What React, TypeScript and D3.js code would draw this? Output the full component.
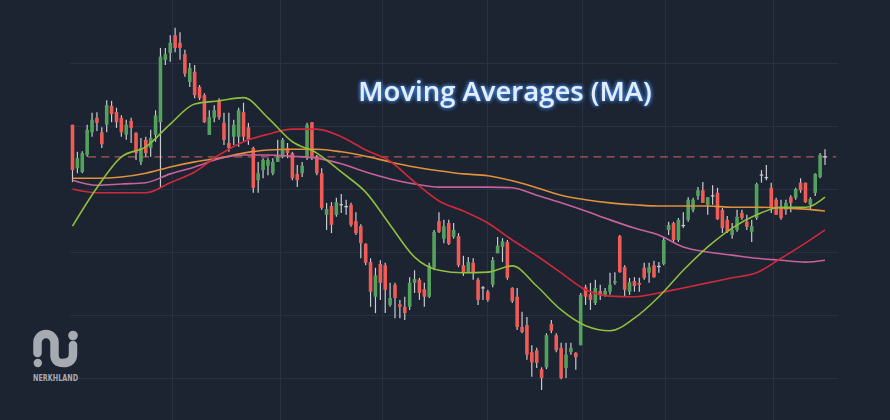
import React from "react";
import * as d3 from "d3";

// ---------- DATA ----------
const openP = [100.2,93.3,92.7,95.4,99.0,101.3,99.0,100.2,103.2,102.2,
101.3,98.6,100.8,98.9,94.3,97.8,96.5,98.6,100.6,110.5,
111.6,114.4,113.2,111.4,107.0,108.6,106.2,104.9,98.6,101.3,
104.0,100.5,97.3,98.3,98.3,102.2,99.8,96.5,91.4,93.0,
93.7,92.5,94.3,95.1,96.5,95.7,92.4,92.5,95.1,100.6,
95.1,92.5,85.9,87.3,85.9,87.6,87.1,87.5,84.9,84.1,
81.3,78.4,72.9,78.1,77.9,71.6,74.8,71.7,71.3,71.3,
75.1,75.6,74.1,72.9,77.5,84.9,82.1,84.6,82.4,82.5,
77.9,76.8,78.3,75.6,74.4,73.7,74.8,79.8,80.8,81.6,
74.3,72.9,68.1,68.4,64.1,64.4,61.4,61.7,68.6,66.8,
64.8,61.6,64.1,64.0,65.2,74.4,73.3,71.9,73.8,73.2,
73.7,75.1,82.5,77.6,73.7,75.4,75.1,77.5,76.7,77.9,
77.6,78.1,83.5,84.6,81.9,84.3,85.1,86.7,88.9,89.8,
87.5,89.0,89.4,86.7,85.1,82.7,83.5,86.2,84.8,83.2,
85.4,92.3,91.9,90.2,88.3,87.0,86.7,88.7,88.6,91.0,
91.0,87.5,89.4,91.9,95.2];

const closeP = [93.0,94.9,95.7,99.4,101.0,100.5,97.1,103.3,101.9,100.6,
99.0,100.2,99.7,95.7,96.5,95.7,98.1,101.7,111.0,111.4,
113.2,112.4,112.4,108.3,109.2,104.9,104.4,100.6,101.4,102.5,
101.4,97.8,96.5,100.2,102.5,98.3,97.8,90.2,92.5,94.6,
94.6,94.3,95.1,97.8,95.7,91.7,91.4,93.7,100.2,94.9,
92.5,87.0,86.8,84.3,87.9,87.5,87.3,84.3,83.0,81.4,
78.3,73.7,76.3,75.1,74.0,72.7,72.7,71.3,70.3,75.1,
75.7,73.5,72.9,77.9,83.2,83.2,84.1,81.3,83.5,77.9,
76.7,78.4,76.8,72.4,74.3,72.4,78.7,81.0,81.7,75.9,
72.2,68.1,67.3,63.7,62.5,62.4,60.0,66.8,67.5,64.4,
60.0,63.7,64.8,63.3,73.2,72.9,72.4,74.3,73.2,73.8,
74.8,75.4,76.8,74.0,75.2,74.6,74.8,75.9,77.6,76.0,
77.8,81.9,84.3,81.9,85.1,84.1,88.3,88.3,89.8,87.8,
88.7,88.9,85.2,83.8,83.2,83.5,85.6,85.4,84.0,84.1,
90.8,92.2,91.8,87.0,85.9,85.4,87.8,87.8,90.0,89.8,
87.9,88.4,92.4,95.4,95.1];

const highP = [100.2,95.9,96.0,100.2,102.1,102.2,99.8,104.1,104.0,102.9,
101.7,101.0,101.3,99.0,98.1,98.3,99.4,102.5,112.4,112.4,
114.4,115.6,114.9,112.1,110.0,109.7,106.5,105.2,102.5,103.3,
104.4,102.1,102.1,101.0,102.9,103.7,100.5,96.7,94.3,94.9,
94.9,94.9,97.8,98.1,97.3,95.9,93.8,94.3,100.5,100.6,
95.4,93.3,87.8,87.9,88.6,89.2,88.3,87.8,86.3,84.4,
81.4,79.0,77.5,78.7,78.3,75.1,75.1,72.4,72.9,76.0,
77.1,75.9,75.1,78.3,83.5,86.3,85.1,85.1,84.6,83.0,
79.4,79.2,79.0,75.9,74.6,74.0,79.2,82.4,82.2,81.9,
74.4,74.3,70.5,69.7,65.2,64.8,61.7,67.1,69.2,67.1,
65.6,65.6,65.6,64.1,73.5,74.8,75.1,75.6,74.8,74.3,
76.7,76.8,82.7,77.9,75.9,76.0,75.9,78.3,78.3,78.6,
78.4,82.4,84.8,84.8,85.4,86.3,88.7,88.6,90.3,91.1,
88.7,90.6,90.2,87.0,85.7,84.6,86.7,86.7,85.9,85.1,
91.0,93.0,93.8,91.0,88.6,88.3,88.3,89.0,90.2,91.7,
91.0,88.7,92.5,95.7,96.3];

const lowP = [91.1,92.5,92.5,95.1,98.3,99.2,96.5,99.0,100.6,99.7,
98.3,97.8,97.3,94.6,93.8,95.1,95.1,97.5,90.3,109.7,
110.2,111.7,110.5,107.8,106.2,104.4,104.1,100.5,98.6,100.6,
101.0,97.0,95.9,97.0,96.7,97.5,97.0,89.4,89.4,91.7,
92.2,92.2,94.3,94.9,94.9,91.4,90.3,91.9,94.6,94.6,
92.2,86.7,83.5,83.0,85.6,86.2,85.9,84.0,82.7,79.0,
77.9,71.3,70.3,72.4,70.3,71.3,69.5,69.5,69.2,70.8,
73.5,72.4,71.3,72.7,77.1,83.0,81.4,81.1,82.1,77.6,
76.2,76.7,75.6,71.6,72.4,72.1,74.4,79.8,78.4,75.6,
71.9,67.6,67.1,62.9,60.2,61.6,58.1,61.4,67.1,64.1,
59.8,60.0,63.7,61.3,65.2,71.6,70.8,71.6,72.4,72.9,
73.2,74.8,76.7,72.9,73.2,73.7,73.7,75.6,75.1,75.9,
76.7,77.9,82.7,81.6,81.6,83.8,84.8,86.3,88.3,87.8,
85.9,87.5,85.1,83.0,83.0,82.1,83.2,85.1,83.5,81.6,
85.1,91.0,91.4,86.2,85.9,85.1,85.9,86.3,88.3,89.4,
87.8,86.7,88.9,91.7,93.8];

// moving averages, sampled at these candle indices
const maIdx = [0,5,10,15,20,25,30,35,40,45,50,55,60,65,70,75,80,85,90,95,100,105,110,115,120,125,130,135,140,145,150,154];
const maShort = [84.1,90.2,95.1,96.7,100.3,103.5,104.0,104.5,101.3,97.5,95.7,92.7,89.5,84.3,79.2,77.1,76.7,76.8,77.8,74.6,70.8,68.3,67.5,69.5,72.9,77.1,80.8,83.8,85.9,87.1,87.1,88.7];
const maMid = [90.0,89.4,89.4,89.4,91.0,92.7,95.4,97.5,98.7,99.5,99.5,98.3,96.2,94.4,91.1,88.1,86.5,84.6,81.9,79.4,76.7,74.0,73.0,72.9,73.5,74.3,75.1,75.9,76.7,79.0,81.4,83.5];
const maLong = [91.4,90.6,90.8,91.0,92.4,93.5,94.8,95.4,95.4,95.2,94.9,94.0,92.7,91.6,90.8,90.3,90.3,90.3,90.2,89.0,87.8,86.5,85.1,83.8,82.7,80.8,80.0,79.5,79.0,78.7,78.4,78.7];
const maVeryLong = [91.7,91.7,91.9,92.5,93.5,94.3,94.9,95.7,96.2,96.3,96.3,95.9,95.2,94.3,93.5,92.9,92.4,92.1,91.3,90.2,89.0,88.3,87.8,87.5,87.3,87.3,87.3,87.1,87.1,87.0,86.8,86.5];

const priceGrid = [60, 70, 80, 90, 100, 110];
const timeGrid = [20.4, 42.5, 63.3, 84.9, 104.2, 121.2, 143.3];
const resistance = 95.1;
const titleText = "Moving Averages (MA)";
const brandText = "NERKHLAND";

// ---------- CHART ----------
const W = 890;
const H = 420;
const BG = "#1c2331";
const UP = "#53a15d";
const DOWN = "#ef5b55";
const WICK = "#c9ccd1";

export default function App() {
  const n = openP.length;
  const x = d3.scaleLinear().domain([0, n - 1]).range([72.5, 825]);
  const y = d3.scaleLinear().domain([50, 120]).range([441, 0]);
  const bw = 3.6;

  const mkLine = (vals: number[]) =>
    d3
      .line<number>()
      .x((_, i) => x(maIdx[i]))
      .y((v) => y(v))
      .curve(d3.curveMonotoneX)(vals) || "";

  const mas = [
    { vals: maVeryLong, color: "#e0913a" },
    { vals: maLong, color: "#c7629c" },
    { vals: maMid, color: "#cf2a3a" },
    { vals: maShort, color: "#8fbf3c" },
  ];

  return (
    <svg
      width={W}
      height={H}
      style={{ position: "absolute", left: 0, top: 0, display: "block" }}
    >
      <defs>
        <filter id="glow" x="-20%" y="-60%" width="140%" height="220%">
          <feGaussianBlur in="SourceAlpha" stdDeviation="2" result="b" />
          <feFlood floodColor="#3f8cf0" floodOpacity="0.9" />
          <feComposite in2="b" operator="in" result="g" />
          <feMerge>
            <feMergeNode in="g" />
            <feMergeNode in="g" />
            <feMergeNode in="SourceGraphic" />
          </feMerge>
        </filter>
      </defs>
      <rect x={0} y={0} width={W} height={H} fill={BG} />

      {/* grid */}
      <g stroke="#283041" strokeWidth={1}>
        {priceGrid.map((p) => (
          <line key={"h" + p} x1={70} x2={838} y1={Math.round(y(p)) + 0.5} y2={Math.round(y(p)) + 0.5} />
        ))}
        {timeGrid.map((t) => (
          <line key={"v" + t} x1={Math.round(x(t)) + 0.5} x2={Math.round(x(t)) + 0.5} y1={0} y2={H} />
        ))}
      </g>

      {/* resistance dashed */}
      <line
        x1={88}
        x2={836}
        y1={y(resistance)}
        y2={y(resistance)}
        stroke="#c8625f"
        strokeOpacity={0.85}
        strokeWidth={1.3}
        strokeDasharray="8,5.3"
      />

      {/* candles */}
      <g>
        {openP.map((o, i) => {
          const c = closeP[i];
          const cx = x(i);
          const diff = c - o;
          const col = diff > 0.25 ? UP : diff < -0.25 ? DOWN : WICK;
          const top = y(Math.max(o, c));
          const bot = y(Math.min(o, c));
          return (
            <g key={i}>
              <line x1={cx} x2={cx} y1={y(highP[i])} y2={y(lowP[i])} stroke={WICK} strokeWidth={1.2} />
              <rect x={cx - bw / 2} y={top} width={bw} height={Math.max(1.2, bot - top)} fill={col} />
            </g>
          );
        })}
      </g>

      {/* moving averages */}
      <g fill="none" strokeWidth={1.6} strokeLinejoin="round">
        {mas.map((m, k) => (
          <path key={k} d={mkLine(m.vals)} stroke={m.color} />
        ))}
      </g>

      {/* title */}
      <text
        x={505}
        y={101}
        textAnchor="middle"
        fontFamily="'Open Sans', sans-serif"
        fontWeight={600}
        fontSize={27.5}
        fill="#e2eefb"
        filter="url(#glow)"
      >
        {titleText}
      </text>

      {/* logo */}
      <g fill="#a6aab2" stroke="#a6aab2">
        <path
          d="M37.5,353 L37.5,342.5 A8.5,8.5 0 0 1 54.5,342.5 L54.5,355 Q54.5,363 63,363 Q73,363 73,354 L73,345"
          fill="none"
          strokeWidth={8.5}
          strokeLinecap="round"
        />
        <circle cx={37.8} cy={363} r={4.2} stroke="none" />
        <circle cx={73} cy={335.5} r={4.8} stroke="none" />
        <text
          x={33}
          y={381}
          stroke="none"
          fontFamily="'DejaVu Sans', sans-serif"
          fontWeight={700}
          fontSize={8}
          textLength={45}
          lengthAdjust="spacingAndGlyphs"
        >
          {brandText}
        </text>
      </g>
    </svg>
  );
}
